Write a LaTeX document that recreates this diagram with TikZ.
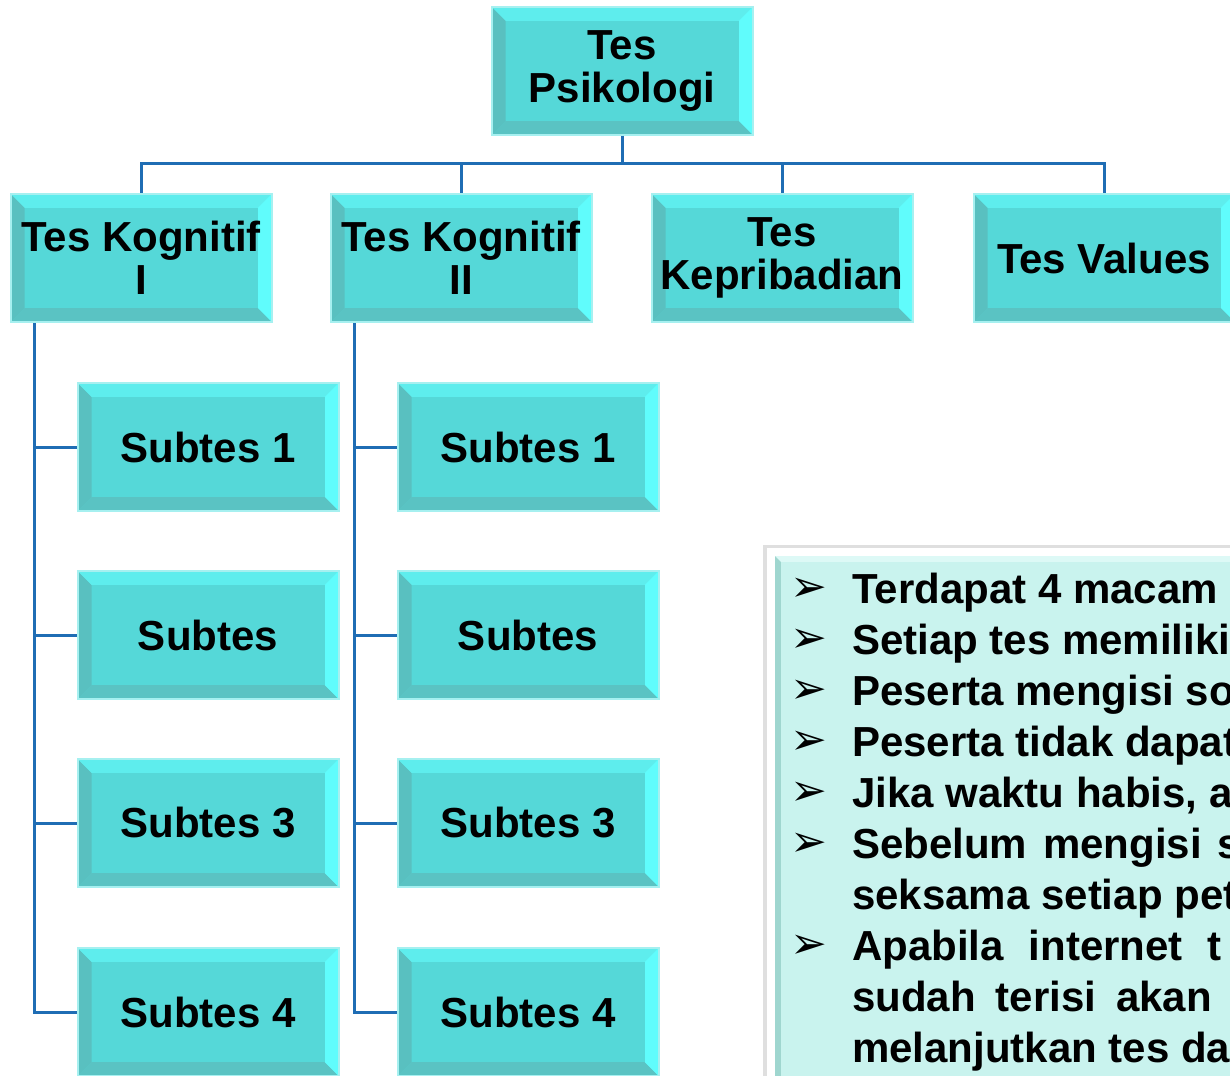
\documentclass[tikz,border=0pt]{standalone}
\usepackage{fontspec}
\setmainfont{Liberation Sans}
\newfontfamily\symfont{DejaVu Sans}
\definecolor{tilemid}{HTML}{55D8D8}
\definecolor{tiletop}{HTML}{5EEDED}
\definecolor{tileright}{HTML}{60FCFC}
\definecolor{tileleft}{HTML}{59C0C0}
\definecolor{tilebot}{HTML}{5AC3C3}
\definecolor{tilerim}{HTML}{A6F0F0}
\definecolor{linkblue}{HTML}{1F6DB4}
\definecolor{notefill}{HTML}{C9F3EE}
\definecolor{notetop}{HTML}{DDF9F6}
\definecolor{noteleft}{HTML}{9FD6CF}
\tikzset{
  tile/.style={draw=tilerim, line width=2pt, fill=tilemid, minimum width=261pt,
    minimum height=128pt, inner sep=0pt, align=center,
    font=\bfseries\fontsize{42}{43}\selectfont,
    path picture={
      \coordinate (pnw) at (path picture bounding box.north west);
      \coordinate (pne) at (path picture bounding box.north east);
      \coordinate (psw) at (path picture bounding box.south west);
      \coordinate (pse) at (path picture bounding box.south east);
      \fill[tiletop] (pnw) -- (pne) -- ([shift={(-14pt,-14pt)}]pne) -- ([shift={(14pt,-14pt)}]pnw) -- cycle;
      \fill[tileleft] (pnw) -- (psw) -- ([shift={(14pt,14pt)}]psw) -- ([shift={(14pt,-14pt)}]pnw) -- cycle;
      \fill[tileright] (pne) -- (pse) -- ([shift={(-14pt,14pt)}]pse) -- ([shift={(-14pt,-14pt)}]pne) -- cycle;
      \fill[tilebot] (psw) -- (pse) -- ([shift={(-14pt,14pt)}]pse) -- ([shift={(14pt,14pt)}]psw) -- cycle;
      \fill[tilemid] ([shift={(14pt,-14pt)}]pnw) rectangle ([shift={(-14pt,14pt)}]pse);
    }},
  link/.style={draw=linkblue, line width=3pt},
  arrowbul/.style={font=\symfont\fontsize{44}{44}\selectfont, inner sep=0pt},
  noteline/.style={anchor=base west, inner sep=0pt, font=\bfseries\fontsize{42}{51}\selectfont}
}
\begin{document}
\begin{tikzpicture}[x=1pt, y=-1pt]
                    \path[use as bounding box, clip] (0,0) rectangle (1230,1075);
                    \node[tile] (psi) at (622,71) {Tes\\Psikologi};
                    \node[tile] (kog1) at (141,258) {Tes Kognitif\\I};
                    \node[tile] (kog2) at (461,258) {Tes Kognitif\\II};
                    \node[tile] (prib) at (782,258) {Tes\\Kepribadian};
                    \node[tile] (vals) at (1104,258) {Tes Values};
                    \node[tile] (sa1) at (208,447) {Subtes 1};
                    \node[tile] (sa2) at (208,635) {Subtes};
                    \node[tile] (sa3) at (208,823) {Subtes 3};
                    \node[tile] (sa4) at (208,1012) {Subtes 4};
                    \node[tile] (sb1) at (528,447) {Subtes 1};
                    \node[tile] (sb2) at (528,635) {Subtes};
                    \node[tile] (sb3) at (528,823) {Subtes 3};
                    \node[tile] (sb4) at (528,1012) {Subtes 4};
                    \coordinate (bus) at (622,164);
                    \draw[link] (psi) -- (bus);
                    \foreach \t in {kog1,kog2,prib,vals}
                        \draw[link] (bus) -| (\t);
                    \foreach \s in {sa1,sa2,sa3,sa4}
                        \draw[link] ([xshift=25pt]kog1.south west) |- (\s);
                    \foreach \s in {sb1,sb2,sb3,sb4}
                        \draw[link] ([xshift=25pt]kog2.south west) |- (\s);
                    \fill[gray!25] (763,545) rectangle (1240,1090);
                    \fill[white] (767,548) rectangle (1240,1090);
                    \fill[noteleft] (775,556) rectangle (1240,1090);
                    \fill[notetop] (775,556) -- (1240,556) -- (1240,562) -- (781,562) -- cycle;
                    \fill[notefill] (781,562) rectangle (1240,1090);
                    \foreach \i in {0,1,2,3,4,5,7}
                        \node[arrowbul] (bul\i) at (809,590+51*\i) {➢};
                    \node[noteline] (ln1) at (852,603) {Terdapat 4 macam};
                    \node[noteline] (ln2) at (852,654) {Setiap tes memiliki};
                    \node[noteline] (ln3) at (852,705) {Peserta mengisi so};
                    \node[noteline] (ln4) at (852,756) {Peserta tidak dapat};
                    \node[noteline] (ln5) at (852,807) {Jika waktu habis, a};
                    \node[noteline] (ln6) at (852,858) {\spaceskip=16pt Sebelum mengisi s};
                    \node[noteline] (ln7) at (852,909) {seksama setiap pet};
                    \node[noteline] (ln8) at (852,960) {\spaceskip=25pt Apabila internet t};
                    \node[noteline] (ln9) at (852,1011) {\spaceskip=20pt sudah terisi akan t};
                    \node[noteline] (ln10) at (852,1062) {melanjutkan tes da};
                \end{tikzpicture}
\end{document}
